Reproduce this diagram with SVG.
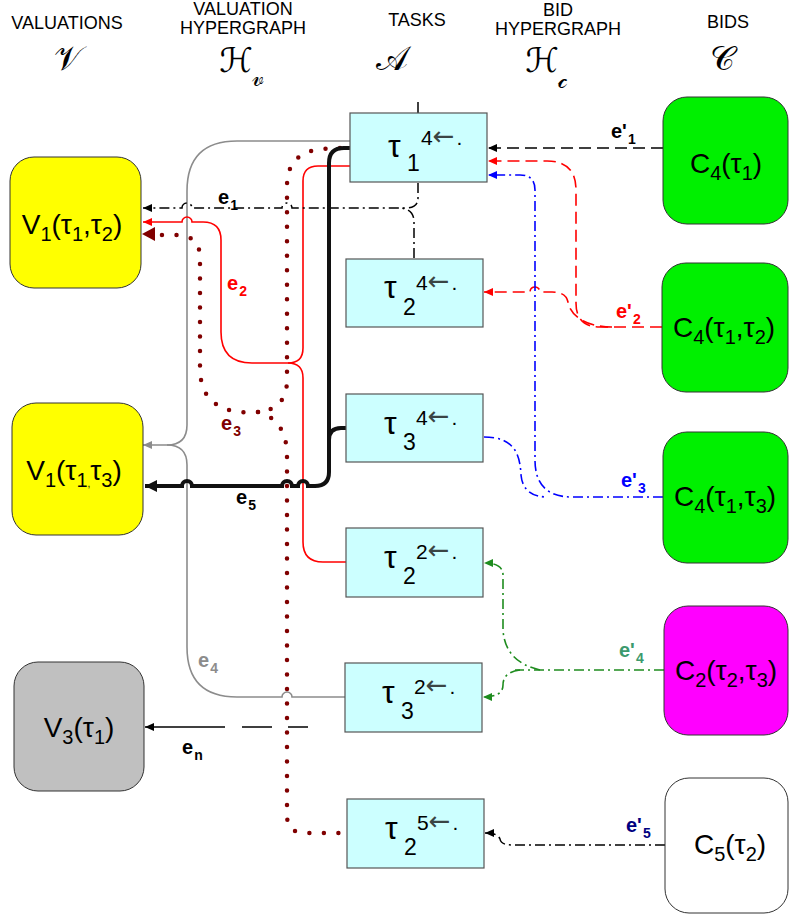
<svg xmlns="http://www.w3.org/2000/svg" width="789" height="916" viewBox="0 0 789 916">
<style>
.hd{font-family:"Liberation Sans",Arial,sans-serif;font-size:18px;fill:#000;text-anchor:middle}
.sc{font-family:"DejaVu Serif","DejaVu Sans",serif;font-size:34px;fill:#000;text-anchor:middle}
.scs{font-family:"DejaVu Serif","DejaVu Sans",serif;font-size:24px;fill:#000}
.nt{font-family:"Liberation Sans",Arial,sans-serif;font-size:28px;fill:#000;text-anchor:middle}
.ns{font-size:20px}
.tt{font-family:"Liberation Sans",Arial,sans-serif;fill:#000}
.arw{font-family:"DejaVu Sans",sans-serif;font-size:26px;fill:#3a4444}
.lbl{font-family:"Liberation Sans",Arial,sans-serif;font-size:20px;font-weight:bold}
.ls{font-size:14px}
.vbox{fill:#ffff00;stroke:#333;stroke-width:1}
.task{fill:#ccffff;stroke:#555;stroke-width:1.2}
.cbox{stroke:#333;stroke-width:1}
.c{fill:none}
.dd{stroke-dasharray:10 4 2 4}
.dot{stroke:#800000;stroke-width:4.5;stroke-linecap:round;stroke-dasharray:0 14.5;fill:none}
</style>
<defs>
<marker id="ak" markerUnits="userSpaceOnUse" markerWidth="10" markerHeight="10" refX="9" refY="4" orient="auto"><path d="M0,0 L9,4 L0,8 z" fill="#000"/></marker>
<marker id="ar" markerUnits="userSpaceOnUse" markerWidth="10" markerHeight="10" refX="9" refY="4" orient="auto"><path d="M0,0 L9,4 L0,8 z" fill="#ff0000"/></marker>
<marker id="ag" markerUnits="userSpaceOnUse" markerWidth="10" markerHeight="10" refX="9" refY="4" orient="auto"><path d="M0,0 L9,4 L0,8 z" fill="#8c8c8c"/></marker>
<marker id="ab" markerUnits="userSpaceOnUse" markerWidth="10" markerHeight="10" refX="9" refY="4" orient="auto"><path d="M0,0 L9,4 L0,8 z" fill="#0000ff"/></marker>
<marker id="agr" markerUnits="userSpaceOnUse" markerWidth="10" markerHeight="10" refX="9" refY="4" orient="auto"><path d="M0,0 L9,4 L0,8 z" fill="#1e8c1e"/></marker>
<marker id="akb" markerUnits="userSpaceOnUse" markerWidth="14" markerHeight="14" refX="12" refY="6" orient="auto"><path d="M0,0 L12,6 L0,12 z" fill="#111"/></marker>
</defs>
<rect width="789" height="916" fill="#fff"/>

<g id="header">
<text class="hd" x="67" y="29">VALUATIONS</text>
<text class="hd" x="243" y="15">VALUATION</text>
<text class="hd" x="243" y="34">HYPERGRAPH</text>
<text class="hd" x="417" y="26">TASKS</text>
<text class="hd" x="558" y="16">BID</text>
<text class="hd" x="558" y="35">HYPERGRAPH</text>
<text class="hd" x="728" y="28">BIDS</text>
<text class="sc" x="68" y="70">𝒱</text>
<text class="sc" x="236" y="72">ℋ</text><text class="scs" x="252" y="86">𝓋</text>
<text class="sc" x="392" y="70">𝒜</text>
<text class="sc" x="542" y="72">ℋ</text><text class="scs" x="558" y="88">𝒸</text>
<text class="sc" x="722" y="70">𝒞</text>
</g>

<g id="connectors">
<path d="M418 102 L418 113" stroke="#000" stroke-width="1.5" class="c"/>
<!-- e4 gray -->
<path class="c" stroke="#8c8c8c" stroke-width="1.6" d="M350 141 L237 141 Q187 141 187 191 L187 425 Q187 445 167 445 L143 445" marker-end="url(#ag)"/>
<path class="c" stroke="#8c8c8c" stroke-width="1.6" d="M167 445 Q187 445 187 465 L187 647 Q187 697 237 697 L282 697 A5 5 0 0 1 292 697 L345 697"/>
<!-- e3 dotted -->
<path class="dot" d="M340 148 L322 149 Q287 152 287 186 L287 380 Q287 409 258 412"/>
<path class="dot" d="M258 412 Q200 416 200 368 L200 258 Q200 235 176 235 L150 235"/>
<path d="M142 234 L155 227 L155 241 z" fill="#800000"/>
<path class="dot" d="M258 412 Q287 420 287 456 L287 815 Q287 833 305 833 L345 833"/>
<!-- e2 red -->
<path class="c" stroke="#ff0000" stroke-width="1.6" d="M350 166 L318 166 Q303 166 303 181 L303 348 Q303 363 288 363 L252 363 Q221 363 221 332 L221 240 Q221 222 203 222 L192 222 A5 5 0 0 0 182 222 L143 222" marker-end="url(#ar)"/>
<path class="c" stroke="#ff0000" stroke-width="1.6" d="M288 363 Q303 363 303 378 L303 542 Q303 562 323 562 L346 562"/>
<!-- e1 black dash-dot -->
<path class="c dd" stroke="#000" stroke-width="1.5" d="M418 183 L418 198 Q418 208 406 208 L292 208 A5 5 0 0 0 282 208 L192 208 A5 5 0 0 0 182 208 L143 208" marker-end="url(#ak)"/>
<path class="c dd" stroke="#000" stroke-width="1.5" d="M414 258 L414 222 Q414 208 398 208"/>
<!-- e5 thick black -->
<path class="c" stroke="#111" stroke-width="4" d="M352 148 L344 148 Q329 148 329 163 L329 472 Q329 486 315 486 L308 486 A5 5 0 0 0 298 486 L292 486 A5 5 0 0 0 282 486 L192 486 A5 5 0 0 0 182 486 L145 486" marker-end="url(#akb)"/>
<path class="c" stroke="#111" stroke-width="4" d="M347 428 L341 428 Q329 428 329 440"/>
<!-- en -->
<path class="c" stroke="#000" stroke-width="1.5" d="M225 727 L145 727" marker-end="url(#ak)"/>
<path class="c" stroke="#000" stroke-width="1.5" d="M242 727 L272 727 M288 727 L308 727"/>
<!-- e'1 -->
<path class="c" stroke="#000" stroke-width="1.5" stroke-dasharray="12 6" d="M663 148 L488 148" marker-end="url(#ak)"/>
<!-- e'2 red dashed -->
<path class="c" stroke="#ff0000" stroke-width="1.6" stroke-dasharray="12 6" d="M662 327 L600 327 Q576 327 576 303 L576 190 Q576 161 547 161 L488 161" marker-end="url(#ar)"/>
<path class="c" stroke="#ff0000" stroke-width="1.6" stroke-dasharray="12 6" d="M612 327 C585 327 570 315 568 302 Q566 292 552 292 L540 292 A5 5 0 0 0 530 292 L484 292" marker-end="url(#ar)"/>
<!-- e'3 blue dash-dot -->
<path class="c dd" stroke="#0000ff" stroke-width="1.6" d="M663 497 L572 497 Q535 497 535 460 L535 190 Q535 175 520 175 L488 175" marker-end="url(#ab)"/>
<path class="c dd" stroke="#0000ff" stroke-width="1.6" d="M484 437 C515 437 520 455 521 475 Q523 497 548 497"/>
<!-- e'4 green dash-dot -->
<path class="c dd" stroke="#1e8c1e" stroke-width="1.6" d="M664 670 L515 670"/>
<path class="c dd" stroke="#1e8c1e" stroke-width="1.6" d="M540 670 Q505 662 503 630 L503 575 Q503 563 484 563" marker-end="url(#agr)"/>
<path class="c dd" stroke="#1e8c1e" stroke-width="1.6" d="M520 670 Q503 672 503 685 Q503 697 483 697" marker-end="url(#agr)"/>
<!-- e'5 black dash-dot -->
<path class="c dd" stroke="#000" stroke-width="1.5" d="M665 845 L512 845 Q501 845 500 839 Q498 833 485 833" marker-end="url(#ak)"/>
</g>

<g id="labels">
<text class="lbl" x="218" y="204" fill="#000">e<tspan class="ls" dx="1" dy="6">1</tspan></text>
<text class="lbl" x="227" y="290" fill="#ff0000">e<tspan class="ls" dx="1" dy="6">2</tspan></text>
<text class="lbl" x="221" y="430" fill="#800000">e<tspan class="ls" dx="1" dy="6">3</tspan></text>
<text class="lbl" x="198" y="667" fill="#8c8c8c">e<tspan class="ls" dx="1" dy="6">4</tspan></text>
<text class="lbl" x="236" y="504" fill="#000">e<tspan class="ls" dx="1" dy="6">5</tspan></text>
<text class="lbl" x="182" y="754" fill="#000">e<tspan class="ls" dx="1" dy="6">n</tspan></text>
<text class="lbl" x="611" y="138" fill="#000">e'<tspan class="ls" dx="1" dy="6">1</tspan></text>
<text class="lbl" x="616" y="318" fill="#ff0000">e'<tspan class="ls" dx="1" dy="6">2</tspan></text>
<text class="lbl" x="621" y="487" fill="#0000ff">e'<tspan class="ls" dx="1" dy="6">3</tspan></text>
<text class="lbl" x="619" y="657" fill="#3c9a6e">e'<tspan class="ls" dx="1" dy="6">4</tspan></text>
<text class="lbl" x="626" y="832" fill="#000080">e'<tspan class="ls" dx="1" dy="6">5</tspan></text>
</g>

<g id="v1t1t2">
<rect class="vbox" x="10" y="157" width="131" height="131" rx="24"/>
<text class="nt" x="72" y="234">V<tspan class="ns" dy="7">1</tspan><tspan dy="-7">(τ</tspan><tspan class="ns" dy="7">1</tspan><tspan dy="-7">,τ</tspan><tspan class="ns" dy="7">2</tspan><tspan dy="-7">)</tspan></text>
</g>
<g id="v1t1t3">
<rect class="vbox" x="12" y="403" width="131" height="132" rx="24"/>
<text class="nt" x="74" y="480">V<tspan class="ns" dy="7">1</tspan><tspan dy="-7">(τ</tspan><tspan class="ns" dy="7">1</tspan><tspan dy="0" font-size="10">,</tspan><tspan dy="-7">τ</tspan><tspan class="ns" dy="7">3</tspan><tspan dy="-7">)</tspan></text>
</g>
<g id="v3t1">
<rect class="cbox" fill="#c0c0c0" x="14" y="662" width="130" height="129" rx="24"/>
<text class="nt" x="79" y="737">V<tspan class="ns" dy="7">3</tspan><tspan dy="-7">(τ</tspan><tspan class="ns" dy="7">1</tspan><tspan dy="-7">)</tspan></text>
</g>

<g id="t1_4">
<rect class="task" x="350" y="113" width="137" height="69"/>
<text class="tt" x="388" y="157" font-size="32">τ</text><text class="tt" x="407" y="171" font-size="23">1</text>
<text class="tt" x="421" y="145" font-size="21">4<tspan class="arw">←</tspan><tspan dx="2">.</tspan></text>
</g>
<g id="t2_4">
<rect class="task" x="346" y="259" width="137" height="68"/>
<text class="tt" x="384" y="298" font-size="32">τ</text><text class="tt" x="403" y="315" font-size="23">2</text>
<text class="tt" x="416" y="290" font-size="21">4<tspan class="arw">←</tspan><tspan dx="2">.</tspan></text>
</g>
<g id="t3_4">
<rect class="task" x="346" y="394" width="137" height="68"/>
<text class="tt" x="384" y="434" font-size="32">τ</text><text class="tt" x="403" y="450" font-size="23">3</text>
<text class="tt" x="416" y="425" font-size="21">4<tspan class="arw">←</tspan><tspan dx="2">.</tspan></text>
</g>
<g id="t2_2">
<rect class="task" x="346" y="528" width="137" height="69"/>
<text class="tt" x="384" y="568" font-size="32">τ</text><text class="tt" x="403" y="584" font-size="23">2</text>
<text class="tt" x="416" y="559" font-size="21">2<tspan class="arw">←</tspan><tspan dx="2">.</tspan></text>
</g>
<g id="t3_2">
<rect class="task" x="345" y="663" width="137" height="69"/>
<text class="tt" x="382" y="703" font-size="32">τ</text><text class="tt" x="401" y="719" font-size="23">3</text>
<text class="tt" x="414" y="694" font-size="21">2<tspan class="arw">←</tspan><tspan dx="2">.</tspan></text>
</g>
<g id="t2_5">
<rect class="task" x="347" y="799" width="137" height="69"/>
<text class="tt" x="385" y="839" font-size="32">τ</text><text class="tt" x="404" y="855" font-size="23">2</text>
<text class="tt" x="417" y="830" font-size="21">5<tspan class="arw">←</tspan><tspan dx="2">.</tspan></text>
</g>

<g id="c4t1">
<rect class="cbox" fill="#00f000" x="663" y="97" width="125" height="127" rx="24"/>
<text class="nt" x="726" y="173">C<tspan class="ns" dy="7">4</tspan><tspan dy="-7">(τ</tspan><tspan class="ns" dy="7">1</tspan><tspan dy="-7">)</tspan></text>
</g>
<g id="c4t1t2">
<rect class="cbox" fill="#00f000" x="662" y="263" width="126" height="129" rx="24"/>
<text class="nt" x="724" y="337">C<tspan class="ns" dy="7">4</tspan><tspan dy="-7">(τ</tspan><tspan class="ns" dy="7">1</tspan><tspan dy="-7">,τ</tspan><tspan class="ns" dy="7">2</tspan><tspan dy="-7">)</tspan></text>
</g>
<g id="c4t1t3">
<rect class="cbox" fill="#00f000" x="663" y="432" width="125" height="131" rx="24"/>
<text class="nt" x="725" y="506">C<tspan class="ns" dy="7">4</tspan><tspan dy="-7">(τ</tspan><tspan class="ns" dy="7">1</tspan><tspan dy="-7">,τ</tspan><tspan class="ns" dy="7">3</tspan><tspan dy="-7">)</tspan></text>
</g>
<g id="c2t2t3">
<rect class="cbox" fill="#ff00ff" x="664" y="606" width="124" height="129" rx="24"/>
<text class="nt" x="726" y="680">C<tspan class="ns" dy="7">2</tspan><tspan dy="-7">(τ</tspan><tspan class="ns" dy="7">2</tspan><tspan dy="-7">,τ</tspan><tspan class="ns" dy="7">3</tspan><tspan dy="-7">)</tspan></text>
</g>
<g id="c5t2">
<rect class="cbox" fill="#ffffff" x="665" y="778" width="123" height="135" rx="24"/>
<text class="nt" x="730" y="854">C<tspan class="ns" dy="7">5</tspan><tspan dy="-7">(τ</tspan><tspan class="ns" dy="7">2</tspan><tspan dy="-7">)</tspan></text>
</g>
</svg>
